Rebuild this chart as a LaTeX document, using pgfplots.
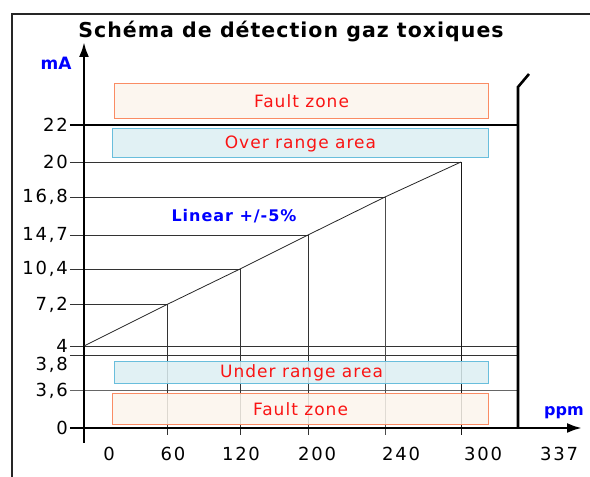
\documentclass[border=0pt]{standalone}
\usepackage{fontspec}
\setmainfont{DejaVu Sans}
\newfontfamily\lsfont[LetterSpace=6]{DejaVu Sans}
\newfontfamily\tickfont[LetterSpace=10]{DejaVu Sans}
\newfontfamily\titlefont[LetterSpace=5]{DejaVu Sans}
\usepackage{pgfplots}
\pgfplotsset{compat=1.18}
\usetikzlibrary{arrows.meta}
\definecolor{faultfill}{RGB}{251,245,236}
\definecolor{faultdraw}{RGB}{250,140,100}
\definecolor{rangefill}{RGB}{220,239,242}
\definecolor{rangedraw}{RGB}{105,190,220}
\definecolor{zonetext}{RGB}{250,20,20}
\definecolor{unitblue}{RGB}{0,0,255}
\begin{document}
\begin{tikzpicture}
\begin{axis}[
  scale only axis, width=506pt, height=428pt,
  xmin=0, xmax=506, ymin=0, ymax=428,
  clip=false,
  axis line style={draw=none},
  major tick length=0pt,
  xtick={25,89,157,233,317,399,475},
  xticklabels={\mbox{0},\mbox{60},\mbox{120},\mbox{200},\mbox{240},\mbox{300},\mbox{337}},
  ytick={0,37,63,82,123.5,159,193,231,266,303},
  yticklabels={\mbox{0},\mbox{3,6},\mbox{3,8},\mbox{4},\mbox{7,2},\mbox{10,4},\mbox{14,7},\mbox{16,8},\mbox{20},\mbox{22}},
  tick label style={font=\tickfont\fontsize{18}{20}\selectfont, inner sep=0pt},
  yticklabel style={anchor=east, xshift=-16pt},
  xticklabel style={anchor=center, yshift=-26pt},
]
% frame
\draw[black!85, line width=1.3pt] (-72,-49) -- (-72,414) -- (506,414);
% thin reference lines
\draw[black!80, line width=0.9pt] (-14,266) -- (377,266);
\draw[black!80, line width=0.9pt] (-14,231) -- (301,231);
\draw[black!80, line width=0.9pt] (-14,193) -- (224,193);
\draw[black!80, line width=0.9pt] (-14,159) -- (156,159);
\draw[black!80, line width=0.9pt] (-14,123.5) -- (83,123.5);
\draw[black!80, line width=0.9pt] (-14,82) -- (434,82);
\draw[black!80, line width=0.9pt] (-14,73) -- (434,73);
\draw[black!60, line width=0.9pt] (-14,38) -- (434,38);
\draw[black!80, line width=0.9pt] (83,123.5) -- (83,-7);
\draw[black!80, line width=0.9pt] (156,159) -- (156,-7);
\draw[black!80, line width=0.9pt] (224,193) -- (224,-7);
\draw[black!70, line width=0.9pt] (301,231) -- (301,-7);
\draw[black!90, line width=0.9pt] (377,266) -- (377,-7);
% zones
\draw[faultdraw, fill=faultfill, fill opacity=0.85, line width=1pt] (31,309) rectangle (404,344);
\draw[rangedraw, fill=rangefill, fill opacity=0.85, line width=1pt] (29,270) rectangle (404,299);
\draw[rangedraw, fill=rangefill, fill opacity=0.85, line width=1pt] (31,44) rectangle (404,66);
\draw[faultdraw, fill=faultfill, fill opacity=0.85, line width=1pt] (29,3) rectangle (404,34);
\node[text=zonetext, font=\lsfont\fontsize{17}{19}\selectfont] at (217.5,326.5) {Fault zone};
\node[text=zonetext, font=\lsfont\fontsize{17}{19}\selectfont] at (216.5,284.5) {Over range area};
\node[text=zonetext, font=\lsfont\fontsize{17}{19}\selectfont] at (217.5,55) {Under range area};
\node[text=zonetext, font=\lsfont\fontsize{17}{19}\selectfont] at (216.5,18.5) {Fault zone};
% thick lines
\draw[black, line width=2.6pt] (-14,303) -- (434,303);
\draw[black, line width=2.6pt] (434,0) -- (434,341) -- (445,354);
\draw[black, line width=2.6pt, -{Latex[length=15pt,width=10pt]}] (0,-15) -- (0,386);
\draw[black, line width=2.6pt, -{Latex[length=15pt,width=10pt]}] (-14,0) -- (498,0);
% linear characteristic (ppm -> mA, schematic positions)
\addplot[black!85, line width=0.8pt, mark=none] coordinates {(0,82) (83,123.5) (156,159) (224,193) (301,231) (377,266)};
% texts
\node[font=\titlefont\bfseries\fontsize{20.5}{24}\selectfont] at (207,396) {Schéma de détection gaz toxiques};
\node[text=unitblue, font=\bfseries\fontsize{17}{19}\selectfont] at (-28,365) {mA};
\node[text=unitblue, font=\bfseries\fontsize{16}{18}\selectfont] at (480,15) {ppm};
\node[text=unitblue, font=\lsfont\bfseries\fontsize{16}{18}\selectfont] at (150,212) {Linear +/-5\%};
\coordinate (BL) at (-84,-49);
\coordinate (TR) at (506,428);
\end{axis}
\pgfresetboundingbox
\useasboundingbox (BL) rectangle (TR);
\end{tikzpicture}
\end{document}
